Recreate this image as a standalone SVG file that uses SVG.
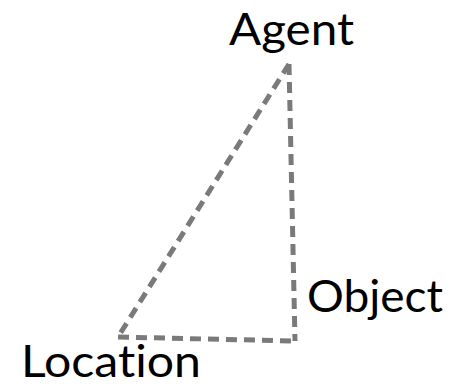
<svg xmlns="http://www.w3.org/2000/svg" width="457" height="387" viewBox="0 0 457 387">
<style>
.lbl{font-family:Lato,"Open Sans","Liberation Sans",sans-serif;font-size:44px;fill:#000;font-variant-ligatures:none}
.edge{fill:none;stroke:#7a7a7a;stroke-width:5;stroke-dasharray:11 7}
</style>
<rect width="457" height="387" fill="#fff"/>
<g id="connectors">
<path class="edge" d="M289,64 L118,337"/>
<path class="edge" d="M289,64 L295,341"/>
<path class="edge" d="M118,337 L295,341"/>
</g>
<g id="agent"><text class="lbl" x="229" y="45" textLength="125" lengthAdjust="spacingAndGlyphs">Agent</text></g>
<g id="object"><text class="lbl" x="307" y="312" textLength="136" lengthAdjust="spacingAndGlyphs">Object</text></g>
<g id="location"><text class="lbl" x="21" y="377" textLength="180" lengthAdjust="spacingAndGlyphs">Location</text></g>
</svg>
